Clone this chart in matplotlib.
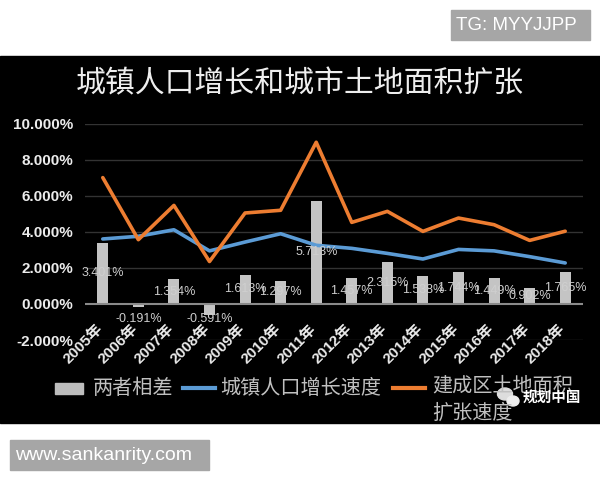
import matplotlib
matplotlib.use('Agg')
import matplotlib.pyplot as plt
from matplotlib.patches import Rectangle, Ellipse
from matplotlib.lines import Line2D
import numpy as np

plt.rcParams['font.family'] = ['Liberation Sans', 'Noto Sans CJK SC']

# data (percent)
years = ['2005年', '2006年', '2007年', '2008年', '2009年', '2010年', '2011年',
         '2012年', '2013年', '2014年', '2015年', '2016年', '2017年', '2018年']
diff = [3.401, -0.191, 1.354, -0.591, 1.613, 1.297, 5.713,
        1.457, 2.315, 1.538, 1.744, 1.449, 0.902, 1.765]
urban_pop = [3.60, 3.75, 4.11, 2.94, 3.43, 3.89, 3.25,
             3.08, 2.80, 2.49, 3.02, 2.94, 2.62, 2.27]
land_area = [7.00, 3.56, 5.46, 2.35, 5.04, 5.19, 8.96,
             4.52, 5.13, 4.02, 4.76, 4.39, 3.52, 4.03]
y_ticks = [-2, 0, 2, 4, 6, 8, 10]

title = '城镇人口增长和城市土地面积扩张'
legend_labels = ['两者相差', '城镇人口增长速度', '建成区土地面积', '扩张速度']

W, H = 600, 480
fig = plt.figure(figsize=(6, 4.8), dpi=100, facecolor='white')


def fx(x):
    return x / W


def fy(y):
    return 1 - y / H


# black screenshot panel
fig.patches.append(Rectangle((0, fy(423)), 1, (423 - 56) / H, transform=fig.transFigure,
                             color='black', zorder=-1))

ax = fig.add_axes([fx(85), fy(340), 498 / W, 216.5 / H])
ax.set_facecolor('none')
x = np.arange(len(years))

ax.bar(x, diff, width=0.31, color='#c4c4c4', zorder=2)
ax.plot(x, urban_pop, color='#5b9bd5', lw=2.6, zorder=3, solid_capstyle='round')
ax.plot(x, land_area, color='#ed7d31', lw=2.6, zorder=3, solid_capstyle='round')

ax.set_xlim(-0.5, len(years) - 0.5)
ax.set_ylim(-2, 10)
ax.set_yticks(y_ticks)
ax.set_yticklabels([f'{v:.3f}%' for v in y_ticks], fontsize=11, fontweight='bold',
                   color='#ececec')
ax.tick_params(axis='y', length=0, pad=8.5)
ax.set_xticks([])
for s in ax.spines.values():
    s.set_visible(False)

for v in y_ticks:
    if v == 0:
        ax.axhline(v, color='#8a8a8a', lw=1.5, zorder=2.5)
    else:
        ax.axhline(v, color='#333333', lw=1, zorder=1)

# data labels
for i, v in enumerate(diff):
    yv = v / 2 if v > 0 else -0.85
    ax.text(i, yv, f'{v:.3f}%', ha='center', va='center', fontsize=9,
            color='#cfcfcf', zorder=4)

# category labels
for i, yr in enumerate(years):
    ax.annotate(yr, xy=(i, 0), xytext=(2, -13), textcoords='offset points',
                rotation=45, ha='right', va='top', fontsize=11, fontweight='bold',
                color='#ececec', annotation_clip=False)

# title
fig.text(fx(300), fy(84), title, ha='center', va='center', fontsize=21.5,
         color='#eeeeee', family='Noto Sans CJK SC')

# legend
leg_font = dict(fontsize=14.5, color='#c0c0c0', family='Noto Sans CJK SC', va='center')
fig.patches.append(Rectangle((fx(55), fy(394)), 28 / W, 11 / H, transform=fig.transFigure,
                             color='#bdbdbd'))
fig.text(fx(93), fy(388), legend_labels[0], **leg_font)
fig.lines.append(Line2D([fx(183), fx(215)], [fy(388), fy(388)], transform=fig.transFigure,
                        color='#5b9bd5', lw=3))
fig.text(fx(220), fy(388), legend_labels[1], **leg_font)
fig.lines.append(Line2D([fx(393), fx(425)], [fy(388), fy(388)], transform=fig.transFigure,
                        color='#ed7d31', lw=3))
fig.text(fx(432), fy(387), legend_labels[2], **leg_font)
fig.text(fx(432), fy(413), legend_labels[3], **leg_font)

# watermark
fig.patches.append(Ellipse((fx(505), fy(394)), 15 / W, 12 / H, transform=fig.transFigure,
                           color='#dddddd'))
fig.patches.append(Ellipse((fx(513), fy(401)), 12 / W, 10 / H, transform=fig.transFigure,
                           color='#eeeeee'))
fig.text(fx(523), fy(397), '规划中国', fontsize=10.5, fontweight='bold', color='white',
         va='center', family='Noto Sans CJK SC')

# gray tag boxes
fig.patches.append(Rectangle((fx(451), fy(40)), 139 / W, 30 / H, transform=fig.transFigure,
                             color='#a6a6a6'))
fig.text(fx(456), fy(25), 'TG: MYYJJPP', fontsize=13.5, color='white', va='center')
fig.patches.append(Rectangle((fx(10), fy(470)), 199 / W, 30 / H, transform=fig.transFigure,
                             color='#a6a6a6'))
fig.text(fx(15), fy(455), 'www.sankanrity.com', fontsize=14, color='white', va='center')

fig.savefig('out.png', dpi=100)
